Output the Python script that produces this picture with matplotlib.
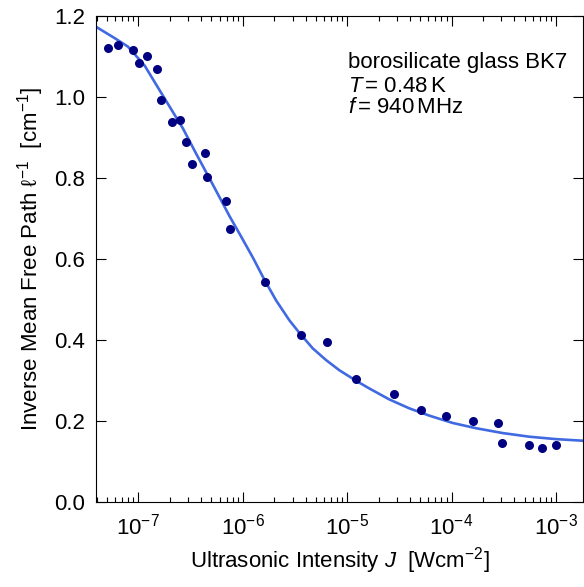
import matplotlib
matplotlib.use("Agg")
import matplotlib.pyplot as plt
from matplotlib.ticker import LogLocator, NullFormatter, FormatStrFormatter
import numpy as np

plt.rcParams["font.family"] = ["Liberation Sans", "DejaVu Sans"]
plt.rcParams["mathtext.fontset"] = "custom"
plt.rcParams["mathtext.rm"] = "Liberation Sans"
plt.rcParams["mathtext.it"] = "Liberation Sans:italic"
plt.rcParams["mathtext.bf"] = "Liberation Sans:bold"

# measured points: log10 of intensity J [W/cm^2] and inverse mean free path [1/cm]
log_j = [-7.294, -7.193, -7.055, -6.992, -6.916, -6.816, -6.785, -6.680,
         -6.597, -6.543, -6.482, -6.361, -6.345, -6.163, -6.125, -5.791,
         -5.446, -5.191, -4.911, -4.554, -4.293, -4.057, -3.799, -3.556,
         -3.518, -3.257, -3.136, -3.000]
inv_path = [1.123, 1.128, 1.118, 1.085, 1.102, 1.069, 0.993, 0.939,
            0.945, 0.890, 0.836, 0.863, 0.803, 0.744, 0.674, 0.544,
            0.413, 0.397, 0.305, 0.267, 0.229, 0.212, 0.200, 0.195,
            0.146, 0.141, 0.135, 0.141]

# fit curve
fit_log_j = [-7.416, -7.225, -7.098, -6.938, -6.778, -6.572, -6.444, -6.285,
             -6.125, -6.030, -5.902, -5.791, -5.679, -5.552, -5.456, -5.329,
             -5.201, -5.074, -4.914, -4.787, -4.596, -4.405, -4.213, -3.991,
             -3.767, -3.512, -3.257, -3.002, -2.741]
fit_inv_path = [1.176, 1.146, 1.125, 1.078, 1.010, 0.923, 0.860, 0.784,
                0.706, 0.663, 0.604, 0.549, 0.498, 0.449, 0.418, 0.380,
                0.351, 0.326, 0.300, 0.281, 0.254, 0.232, 0.214, 0.196,
                0.183, 0.171, 0.162, 0.156, 0.152]

info_lines = ["borosilicate glass BK7", r"$T\,$= 0.48$\,$K", r"$f\,$= 940$\,$MHz"]

fig = plt.figure(figsize=(5.84, 5.87), dpi=100)
ax = fig.add_axes([0.1652, 0.1443, 0.8325, 0.8279])

ax.plot(10 ** np.array(fit_log_j), fit_inv_path, color="#4169E1", lw=1.9,
        solid_joinstyle="round", zorder=2)
ax.plot(10 ** np.array(log_j), inv_path, "o", color="#000080", ms=6.5, mec="none", zorder=3)

ax.set_xscale("log")
ax.set_xlim(10 ** -7.40, 10 ** -2.745)
ax.set_ylim(0, 1.2)
ax.set_yticks(np.arange(0, 1.21, 0.2))
ax.yaxis.set_major_formatter(FormatStrFormatter("%.1f"))
ax.xaxis.set_major_locator(LogLocator(base=10, numticks=20))
ax.xaxis.set_minor_locator(LogLocator(base=10, subs=np.arange(2, 10), numticks=20))
ax.xaxis.set_minor_formatter(NullFormatter())

ax.tick_params(which="both", direction="in", top=True, right=True, width=0.8,
               labelsize=16, colors="black")
ax.tick_params(which="major", length=7)
ax.tick_params(which="minor", length=3.5)
ax.tick_params(axis="x", which="major", pad=8)
ax.tick_params(axis="y", which="major", pad=8)
for s in ax.spines.values():
    s.set_linewidth(0.8)

ax.set_xlabel(r"Ultrasonic Intensity $J$  [Wcm$^{-2}$]", fontsize=16, labelpad=4)
ax.set_ylabel(r"Inverse Mean Free Path ℓ$^{-1}$  [cm$^{-1}$]", fontsize=16, labelpad=6)

for y, line in zip([0.893, 0.844, 0.801], info_lines):
    ax.text(0.517, y, line, transform=ax.transAxes, fontsize=16, va="baseline", ha="left")

fig.savefig("out.png", dpi=100)
